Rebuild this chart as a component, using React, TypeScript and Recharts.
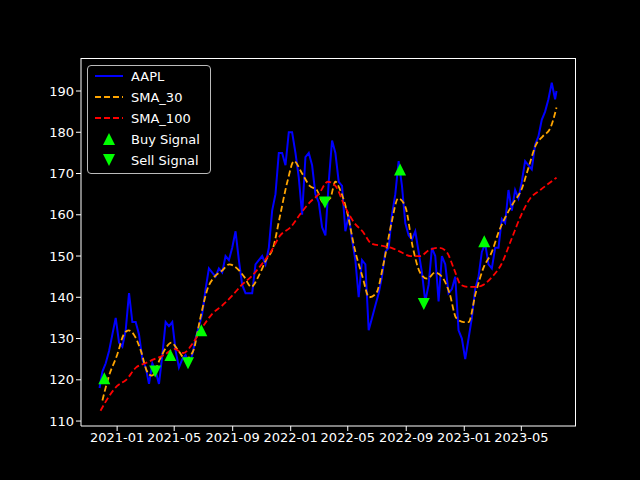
import React from 'react';
import {
  ComposedChart, Line, Scatter, XAxis, YAxis,
} from 'recharts';

const priceDates = [
  '2020-11-25','2020-12-01','2020-12-08','2020-12-15','2020-12-22','2020-12-29','2021-01-05','2021-01-12','2021-01-19','2021-01-26',
  '2021-02-02','2021-02-09','2021-02-16','2021-02-23','2021-03-02','2021-03-09','2021-03-16','2021-03-23','2021-03-30','2021-04-06',
  '2021-04-13','2021-04-20','2021-04-27','2021-05-04','2021-05-11','2021-05-18','2021-05-25','2021-06-01','2021-06-08','2021-06-15',
  '2021-06-22','2021-06-29','2021-07-06','2021-07-13','2021-07-20','2021-07-27','2021-08-03','2021-08-10','2021-08-17','2021-08-24',
  '2021-08-31','2021-09-07','2021-09-14','2021-09-21','2021-09-28','2021-10-05','2021-10-12','2021-10-19','2021-10-26','2021-11-02',
  '2021-11-09','2021-11-16','2021-11-23','2021-11-30','2021-12-07','2021-12-14','2021-12-21','2021-12-28','2022-01-04','2022-01-11',
  '2022-01-18','2022-01-25','2022-02-01','2022-02-08','2022-02-15','2022-02-22','2022-03-01','2022-03-08','2022-03-15','2022-03-22',
  '2022-03-29','2022-04-05','2022-04-12','2022-04-19','2022-04-26','2022-05-03','2022-05-10','2022-05-17','2022-05-24','2022-05-31',
  '2022-06-07','2022-06-14','2022-06-21','2022-06-28','2022-07-05','2022-07-12','2022-07-19','2022-07-26','2022-08-02','2022-08-09',
  '2022-08-16','2022-08-23','2022-08-30','2022-09-06','2022-09-13','2022-09-20','2022-09-27','2022-10-04','2022-10-11','2022-10-18',
  '2022-10-25','2022-11-01','2022-11-08','2022-11-15','2022-11-22','2022-11-29','2022-12-06','2022-12-13','2022-12-20','2022-12-27',
  '2023-01-03','2023-01-10','2023-01-17','2023-01-24','2023-01-31','2023-02-07','2023-02-14','2023-02-21','2023-02-28','2023-03-07',
  '2023-03-14','2023-03-21','2023-03-28','2023-04-04','2023-04-11','2023-04-18','2023-04-25','2023-05-02','2023-05-09','2023-05-16',
  '2023-05-23','2023-05-30','2023-06-06','2023-06-13','2023-06-20','2023-06-27','2023-07-04','2023-07-11','2023-07-14',
];
const priceValues = [
  118,122,124,127,131,135,129,128,132,141,
  134,134,131,125,123,119,124,122,119,126,
  134,133,134,127,123,125,126,124,126,130,
  133,136,142,147,146,145,147,146,150,149,
  152,156,149,143,141,141,141,148,149,150,
  148,152,161,165,175,175,172,180,180,175,
  169,160,174,175,172,165,163,157,155,168,
  178,175,168,167,156,160,154,149,140,149,
  148,132,135,138,141,145,151,152,160,165,
  173,167,158,155,154,156,151,146,139,143,
  152,150,139,150,148,141,142,145,132,130,
  125,130,135,142,145,151,153,148,147,152,
  152,159,158,166,161,166,164,168,173,172,
  171,177,179,183,185,188,192,188,190,
];

const sma30Dates = [
  '2020-12-01','2020-12-15','2021-01-01','2021-01-15','2021-01-25','2021-02-05','2021-02-20','2021-03-05','2021-03-15','2021-04-01',
  '2021-04-15','2021-04-25','2021-05-10','2021-05-25','2021-06-10','2021-06-25','2021-07-10','2021-07-25','2021-08-10','2021-08-25',
  '2021-09-10','2021-09-25','2021-10-10','2021-10-25','2021-11-10','2021-11-25','2021-12-10','2021-12-25','2022-01-08','2022-01-25',
  '2022-02-10','2022-02-25','2022-03-10','2022-03-25','2022-04-05','2022-04-15','2022-05-01','2022-05-15','2022-06-01','2022-06-15',
  '2022-06-30','2022-07-15','2022-08-01','2022-08-15','2022-08-30','2022-09-15','2022-09-30','2022-10-15','2022-11-01','2022-11-15',
  '2022-12-01','2022-12-15','2022-12-31','2023-01-10','2023-01-25','2023-02-10','2023-02-28','2023-03-15','2023-03-31','2023-04-15',
  '2023-05-01','2023-05-15','2023-06-01','2023-06-15','2023-07-01','2023-07-14',
];
const sma30Values = [
  115,121,126,131,132,131,127,122,121,125,
  128,129,127,125,127,135,142,145,146.5,148,
  147,145,142.5,145,149,152,160,168,173,170,
  167,166,163,164,168,166,160,152,145,140,
  141,148,158,164,162,152,146,144.5,146,145,
  141,135,134,134,141,147,151,156,160,163,
  166,171,177,179,181,186,
];

const sma100Dates = [
  '2020-11-27','2020-12-15','2021-01-01','2021-01-20','2021-02-10','2021-03-01','2021-03-20','2021-04-10','2021-05-01','2021-05-20',
  '2021-06-10','2021-07-01','2021-07-20','2021-08-10','2021-09-01','2021-09-20','2021-10-10','2021-11-01','2021-11-20','2021-12-10',
  '2022-01-01','2022-01-20','2022-02-10','2022-03-01','2022-03-20','2022-04-05','2022-04-25','2022-05-15','2022-06-01','2022-06-20',
  '2022-07-10','2022-08-01','2022-08-20','2022-09-10','2022-09-30','2022-10-20','2022-11-10','2022-11-25','2022-12-10','2022-12-25',
  '2023-01-10','2023-01-25','2023-02-10','2023-03-01','2023-03-20','2023-04-10','2023-05-01','2023-05-20','2023-06-10','2023-07-14',
];
const sma100Values = [
  112.5,116,118.5,120,123,124,125,126,127.5,126.5,
  129,133,136,138,140.5,143,145,148,151,155,
  157,160,163,165,168,167,162,158,156,153,
  152.5,152,151,150,150,151.5,152,151,147,143,
  142.5,142.5,143,145,148,154,160,164,166,169,
];

const buyDates = ['2020-12-05','2021-04-23','2021-06-27','2022-08-19','2023-02-12'];
const buyValues = [120.4, 126, 132, 171, 153.6];
const sellDates = ['2021-03-22','2021-05-30','2022-03-14','2022-10-08'];
const sellValues = [122, 124, 163, 138.4];

const xTicks = ['2021-01','2021-05','2021-09','2022-01','2022-05','2022-09','2023-01','2023-05'];
const yTicks = [110, 120, 130, 140, 150, 160, 170, 180, 190];

const ts = (d: string) => Date.parse(d.length === 7 ? d + '-01' : d);
const toPts = (dates: string[], vals: number[]) => dates.map((d, i) => ({ t: ts(d), v: vals[i] }));

const priceData = toPts(priceDates, priceValues);
const sma30Data = toPts(sma30Dates, sma30Values);
const sma100Data = toPts(sma100Dates, sma100Values);
const buyData = toPts(buyDates, buyValues);
const sellData = toPts(sellDates, sellValues);

const fmt = (t: number) => {
  const d = new Date(t);
  return `${d.getUTCFullYear()}-${String(d.getUTCMonth() + 1).padStart(2, '0')}`;
};

const Tri = ({ cx, cy, down }: any) => {
  const s = 6;
  const pts = down
    ? `${cx - s},${cy - s} ${cx + s},${cy - s} ${cx},${cy + s}`
    : `${cx - s},${cy + s} ${cx + s},${cy + s} ${cx},${cy - s}`;
  return <polygon points={pts} fill="#00ff00" />;
};

const font = { fill: '#fff', fontSize: 13, fontFamily: 'DejaVu Sans' };

export default function App() {
  return (
    <div style={{ position: 'absolute', left: 0, top: 0, width: 640, height: 480, background: '#000', fontFamily: 'DejaVu Sans' }}>
      <ComposedChart width={640} height={480} margin={{ top: 58, right: 64, left: 0, bottom: 0 }}>
        <XAxis
          type="number" dataKey="t" xAxisId="b"
          domain={[ts('2020-10-17'), ts('2023-08-24')]}
          ticks={xTicks.map(ts)} tickFormatter={fmt}
          height={54} stroke="#fff" tick={font} tickSize={5} allowDataOverflow
        />
        <YAxis
          type="number" yAxisId="l" domain={[108.8, 198]} ticks={yTicks}
          width={81} stroke="#fff" tick={font} tickSize={5} allowDataOverflow
        />
        <Line data={priceData} xAxisId="b" yAxisId="l" dataKey="v" stroke="#0000ff" strokeWidth={2}
          dot={false} isAnimationActive={false} type="linear" />
        <Line data={sma30Data} xAxisId="b" yAxisId="l" dataKey="v" stroke="#ffa500" strokeWidth={1.8}
          strokeDasharray="6 3" dot={false} isAnimationActive={false} type="monotone" />
        <Line data={sma100Data} xAxisId="b" yAxisId="l" dataKey="v" stroke="#ff0000" strokeWidth={1.8}
          strokeDasharray="6 3" dot={false} isAnimationActive={false} type="monotone" />
        <Scatter data={buyData} xAxisId="b" yAxisId="l" dataKey="v" isAnimationActive={false}
          shape={(p: any) => <Tri cx={p.cx} cy={p.cy} />} />
        <Scatter data={sellData} xAxisId="b" yAxisId="l" dataKey="v" isAnimationActive={false}
          shape={(p: any) => <Tri cx={p.cx} cy={p.cy} down />} />
      </ComposedChart>
      <div style={{
        position: 'absolute', left: 81, top: 58, width: 494, height: 367,
        borderTop: '1px solid #fff', borderRight: '1px solid #fff', pointerEvents: 'none',
      }} />
      <div style={{
        position: 'absolute', left: 87, top: 65, width: 122, height: 107,
        border: '1px solid #bbb', borderRadius: 4, background: 'rgba(0,0,0,0.8)',
        color: '#fff', fontSize: 13,
      }}>
        {[
          { label: 'AAPL', kind: 'line', color: '#0000ff', dash: false },
          { label: 'SMA_30', kind: 'line', color: '#ffa500', dash: true },
          { label: 'SMA_100', kind: 'line', color: '#ff0000', dash: true },
          { label: 'Buy Signal', kind: 'up' },
          { label: 'Sell Signal', kind: 'down' },
        ].map((it: any, i) => (
          <div key={i} style={{ position: 'absolute', left: 0, top: 0 + i * 21, height: 20, display: 'flex', alignItems: 'center' }}>
            <svg width={40} height={20} style={{ marginLeft: 3 }}>
              {it.kind === 'line' && (
                <line x1={4} x2={32} y1={10} y2={10} stroke={it.color} strokeWidth={2}
                  strokeDasharray={it.dash ? '6 3' : undefined} />
              )}
              {it.kind === 'up' && <polygon points="12,16 24,16 18,4" fill="#00ff00" />}
              {it.kind === 'down' && <polygon points="12,4 24,4 18,16" fill="#00ff00" />}
            </svg>
            <span>{it.label}</span>
          </div>
        ))}
      </div>
    </div>
  );
}
